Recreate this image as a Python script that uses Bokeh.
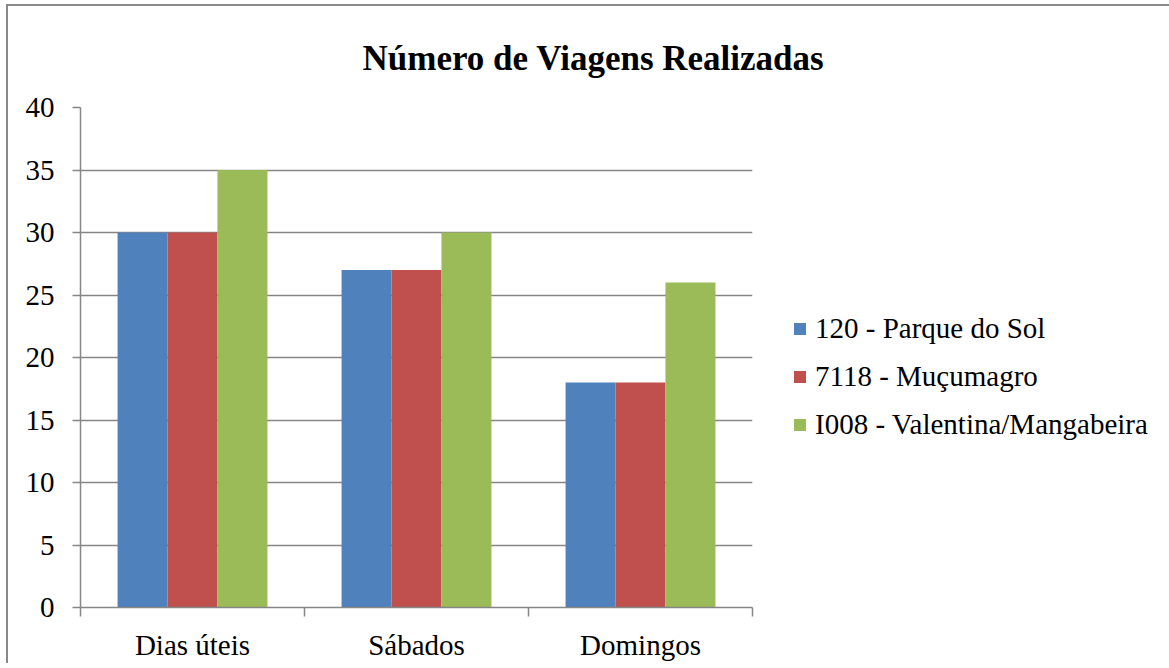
from bokeh.plotting import figure
from bokeh.models import ColumnDataSource, FixedTicker, Legend, LegendItem, Title, Range1d
from bokeh.transform import dodge
from bokeh.embed import file_html
from bokeh.resources import INLINE

categories = ["Dias úteis", "Sábados", "Domingos"]
series_names = ["120 - Parque do Sol", "7118 - Muçumagro", "I008 - Valentina/Mangabeira"]
parque_do_sol = [30, 27, 18]
mucumagro = [30, 27, 18]
valentina = [35, 30, 26]
colors = ["#4F81BD", "#C0504D", "#9BBB59"]
y_ticks = [0, 5, 10, 15, 20, 25, 30, 35, 40]
title_text = "Número de Viagens Realizadas"

FONT = "Liberation Serif"
GRAY = "#868686"

xc = [i + 0.5 for i in range(len(categories))]
src = ColumnDataSource(dict(x=xc, s0=parque_do_sol, s1=mucumagro, s2=valentina))

p = figure(frame_width=672, frame_height=500,
           x_range=Range1d(0, len(categories)), y_range=Range1d(0, 40),
           output_backend="svg", toolbar_location=None,
           min_border_left=72, min_border_right=400, min_border_top=101, min_border_bottom=46,
           styles={"border-top": "2px solid #898989", "border-left": "2px solid #898989",
                   "margin-top": "4px", "margin-left": "6px"})
p.outline_line_color = None
p.background_fill_color = "white"
p.border_fill_color = "white"

bw = 0.223
offsets = [-bw, 0.0, bw]
renderers = []
for k, (col, c) in enumerate(zip(["s0", "s1", "s2"], colors)):
    r = p.vbar(x=dodge("x", offsets[k]), top=col, width=bw, source=src,
               fill_color=c, line_color=None)
    renderers.append(r)

# title
t = Title(text=title_text, align="left", offset=282, text_font=FONT,
          text_font_size="35px", text_font_style="bold", text_color="black",
          vertical_align="bottom", standoff=60)
p.add_layout(t, "above")

# x axis
xa = p.xaxis[0]
xa.ticker = FixedTicker(ticks=xc, minor_ticks=list(range(len(categories) + 1)))
xa.major_label_overrides = {x: c for x, c in zip(xc, categories)}
xa.major_tick_out = 0
xa.major_tick_in = 0
xa.minor_tick_out = 9
xa.minor_tick_in = 0
xa.minor_tick_line_color = GRAY
xa.minor_tick_line_width = 1.5
xa.axis_line_color = GRAY
xa.axis_line_width = 1.5
xa.major_label_text_font = FONT
xa.major_label_text_font_size = "29px"
xa.major_label_text_color = "black"
xa.major_label_standoff = 12

# y axis
ya = p.yaxis[0]
ya.ticker = FixedTicker(ticks=y_ticks)
ya.major_tick_out = 8
ya.major_tick_in = 0
ya.minor_tick_line_color = None
ya.major_tick_line_color = GRAY
ya.major_tick_line_width = 1.5
ya.axis_line_color = GRAY
ya.axis_line_width = 1.5
ya.major_label_text_font = FONT
ya.major_label_text_font_size = "29px"
ya.major_label_text_color = "black"
ya.major_label_standoff = 18

p.xgrid.grid_line_color = None
p.ygrid.ticker = FixedTicker(ticks=y_ticks)
p.ygrid.grid_line_color = GRAY
p.ygrid.grid_line_width = 1.5

legend = Legend(items=[LegendItem(label=n, renderers=[r]) for n, r in zip(series_names, renderers)],
                location=(40, 166), glyph_width=15, glyph_height=15, label_standoff=8,
                label_height=34, spacing=14, padding=0, margin=0, border_line_color=None,
                background_fill_alpha=0, label_text_font=FONT, label_text_font_size="29px",
                label_text_color="black")
p.add_layout(legend, "right")

open("out.html", "w").write(file_html(p, INLINE))
